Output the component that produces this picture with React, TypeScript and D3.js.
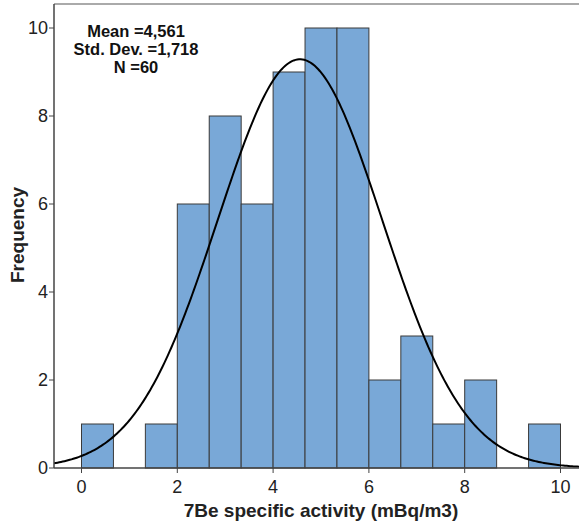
import React from "react";
import * as d3 from "d3";

const binStarts = [0, 0.6667, 1.3333, 2, 2.6667, 3.3333, 4, 4.6667, 5.3333, 6, 6.6667, 7.3333, 8, 8.6667, 9.3333];
const counts = [1, 0, 1, 6, 8, 6, 9, 10, 10, 2, 3, 1, 2, 0, 1];
const binWidth = 0.6667;
const mean = 4.561;
const sd = 1.718;
const n = 60;
const xTicks = [0, 2, 4, 6, 8, 10];
const yTicks = [0, 2, 4, 6, 8, 10];
const statLines = ["Mean =4,561", "Std. Dev. =1,718", "N =60"];

export default function App() {
  const W = 579, H = 528;
  const left = 54, right = 579, top = 4, bottom = 468;
  const x = d3.scaleLinear().domain([0, 10]).range([81.5, 560.5]);
  const y = d3.scaleLinear().domain([0, 10]).range([468, 28]);
  const xMin = x.invert(left), xMax = x.invert(right);
  const pts: [number, number][] = [];
  for (let i = 0; i <= 300; i++) {
    const v = xMin + (xMax - xMin) * i / 300;
    const d = n * binWidth * Math.exp(-0.5 * ((v - mean) / sd) ** 2) / (sd * Math.sqrt(2 * Math.PI));
    pts.push([x(v), y(d)]);
  }
  const line = d3.line();
  const font = "Liberation Sans, Arial, sans-serif";
  return (
    <svg width={W} height={H} style={{ position: "absolute", left: 0, top: 0 }}>
      <rect width={W} height={H} fill="#fff" />
      <defs>
        <clipPath id="pa"><rect x={left} y={top} width={right - left} height={bottom - top} /></clipPath>
      </defs>
      {binStarts.map((b, i) => counts[i] > 0 ? (
        <rect key={i} x={x(b)} y={y(counts[i])} width={x(b + binWidth) - x(b)} height={y(0) - y(counts[i])}
          fill="#79a8d7" stroke="#3a3a3a" strokeWidth={1} />
      ) : null)}
      <path d={line(pts) || ""} fill="none" stroke="#000" strokeWidth={2} clipPath="url(#pa)" />
      <line x1={left} x2={right} y1={top} y2={top} stroke="#aaa" strokeWidth={2} />
      <line x1={left} x2={left} y1={top} y2={bottom} stroke="#444" strokeWidth={1.5} />
      <line x1={left} x2={right} y1={bottom} y2={bottom} stroke="#444" strokeWidth={1.5} />
      {yTicks.map(t => (
        <g key={t}>
          <line x1={left - 5} x2={left} y1={y(t)} y2={y(t)} stroke="#444" strokeWidth={1} />
          <text x={left - 6} y={y(t)} dy="0.36em" textAnchor="end" fontFamily={font} fontSize={18} fill="#222">{t}</text>
        </g>
      ))}
      {xTicks.map(t => (
        <g key={t}>
          <line x1={x(t)} x2={x(t)} y1={bottom} y2={bottom + 5} stroke="#444" strokeWidth={1} />
          <text x={x(t)} y={bottom + 25} textAnchor="middle" fontFamily={font} fontSize={18} fill="#222">{t}</text>
        </g>
      ))}
      <text x={321} y={517} textAnchor="middle" fontFamily={font} fontSize={19} fontWeight="bold" fill="#222">7Be specific activity (mBq/m3)</text>
      <text transform={`translate(24,${235}) rotate(-90)`} textAnchor="middle" fontFamily={font} fontSize={19} fontWeight="bold" fill="#222">Frequency</text>
      {statLines.map((s, i) => (
        <text key={i} x={136} y={36.5 + i * 18} textAnchor="middle" fontFamily={font} fontSize={16.5} fontWeight="bold" fill="#111">{s}</text>
      ))}
    </svg>
  );
}
